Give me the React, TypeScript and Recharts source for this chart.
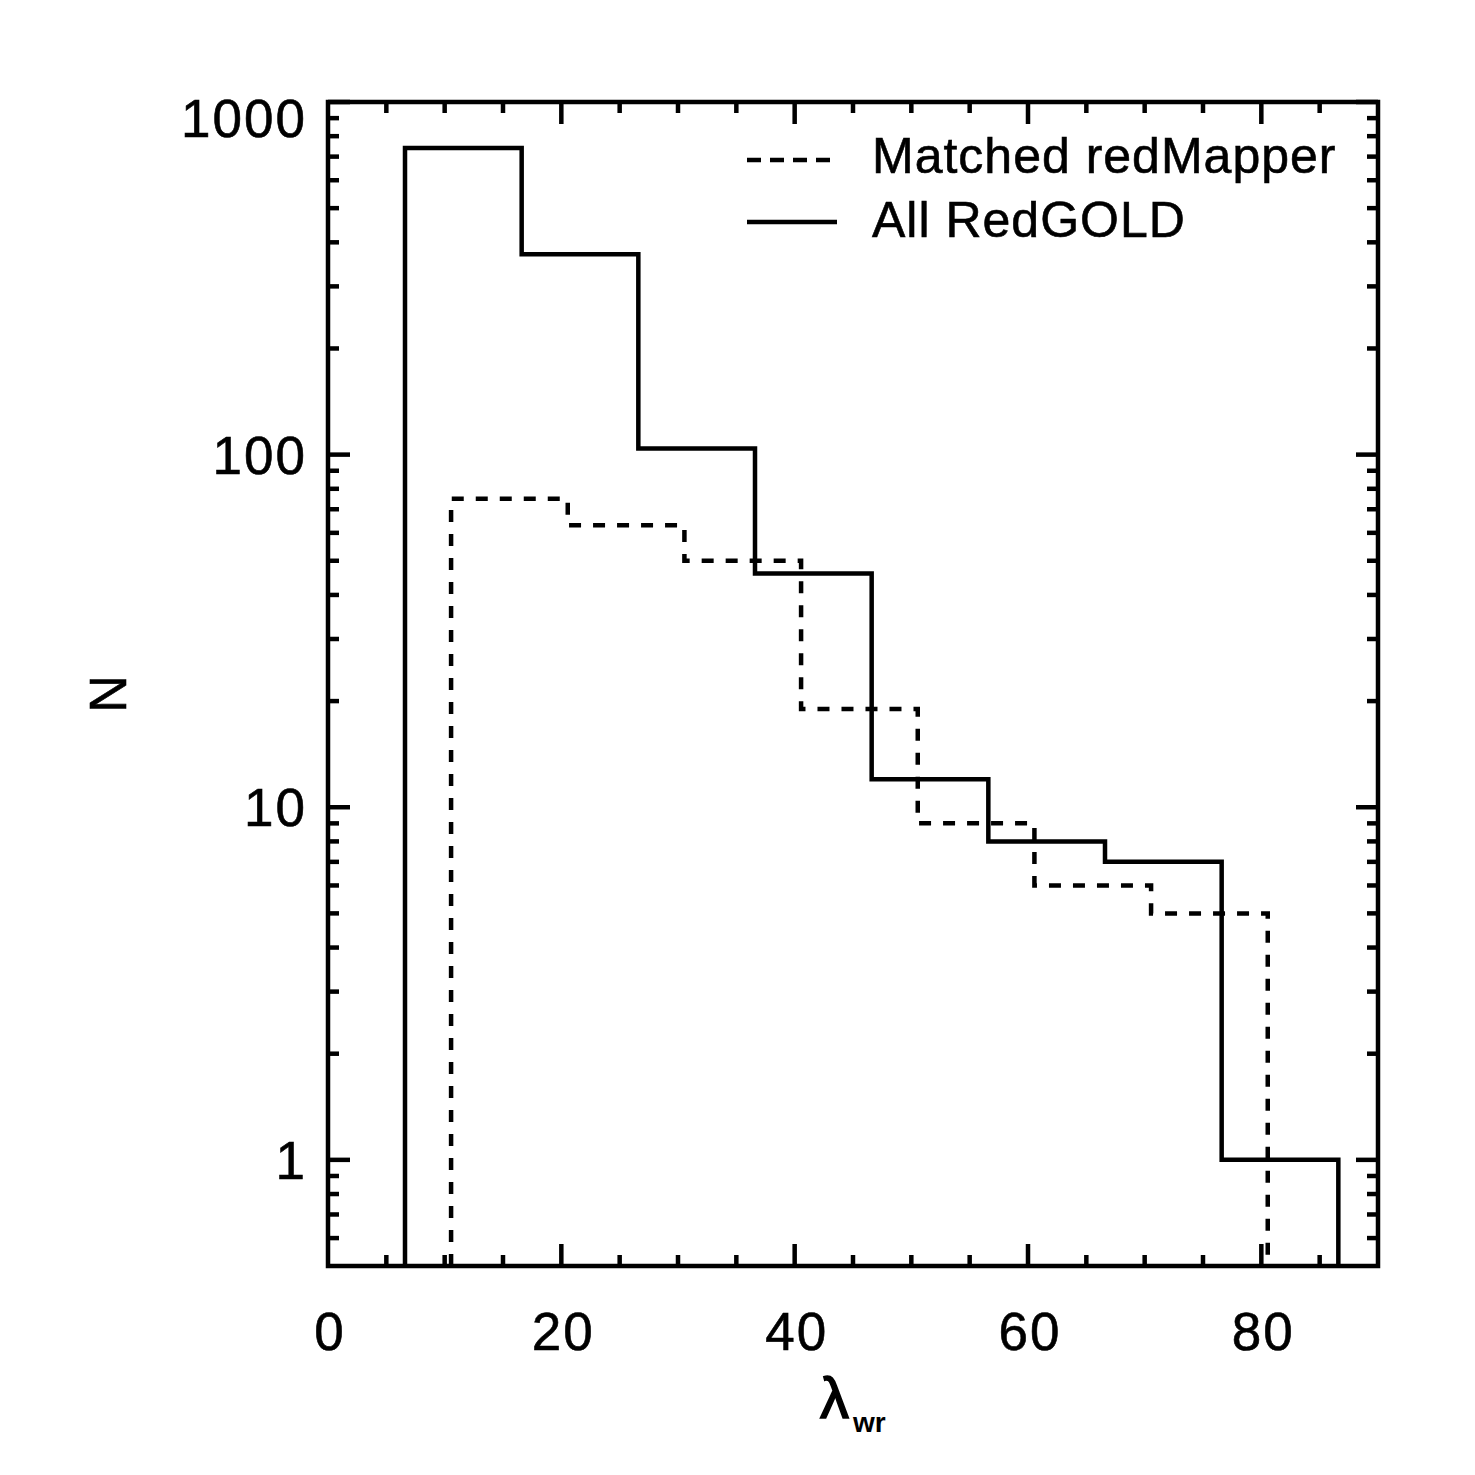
import React from 'react';
import { ComposedChart, Line, XAxis, YAxis, ReferenceArea, Legend } from 'recharts';

// ---- data ----
const solidEdges = [6.6, 16.6, 26.6, 36.6, 46.6, 56.6, 66.6, 76.6, 86.6];
const solidCounts = [740, 370, 104, 46, 12, 8, 7, 1];
const dashedEdges = [10.55, 20.55, 30.55, 40.55, 50.55, 60.55, 70.55, 80.55];
const dashedCounts = [75, 63, 50, 19, 9, 6, 5];
const xTicks = [0, 5, 10, 15, 20, 25, 30, 35, 40, 45, 50, 55, 60, 65, 70, 75, 80, 85];
const xLabels = [0, 20, 40, 60, 80];
const yTicks = [0.6, 0.7, 0.8, 0.9, 1, 2, 3, 4, 5, 6, 7, 8, 9, 10, 20, 30, 40, 50, 60, 70, 80, 90, 100, 200, 300, 400, 500, 600, 700, 800, 900, 1000];
const yLabels = [1, 10, 100, 1000];
const legendNames = ['Matched redMapper', 'All RedGOLD'];

const X_DOMAIN: [number, number] = [0, 90];
const Y_DOMAIN: [number, number] = [0.5, 1000];
const FLOOR = Y_DOMAIN[0];

const buildSteps = (edges: number[], counts: number[]) => {
  const pts = [{ x: edges[0], y: FLOOR }];
  counts.forEach((c, i) => pts.push({ x: edges[i], y: c }));
  const last = edges[edges.length - 1];
  pts.push({ x: last, y: counts[counts.length - 1] });
  pts.push({ x: last, y: FLOOR });
  return pts;
};
const solidData = buildSteps(solidEdges, solidCounts);
const dashedData = buildSteps(dashedEdges, dashedCounts);

// ---- layout ----
const W = 1460;
const H = 1460;
const PL = 320, PR = 1370, PT = 94, PB = 1258;
const YAXIS_W = 100;
const XAXIS_H = 100;
const FONT = '"Liberation Sans", Arial, sans-serif';
const SW = 4.5;

const XTick = (props: any) => {
  const { x, payload } = props;
  const v = payload.value;
  const major = v % 20 === 0;
  const len = major ? 22 : 11;
  return (
    <g>
      {v !== 0 && (
        <>
          <line x1={x} x2={x} y1={PB} y2={PB - len} stroke="#000" strokeWidth={SW} />
          <line x1={x} x2={x} y1={PT} y2={PT + len} stroke="#000" strokeWidth={SW} />
        </>
      )}
      {xLabels.includes(v) && (
        <text x={x + 2} y={PB + 84} textAnchor="middle" fontSize={53} fontFamily={FONT} fill="#000" letterSpacing={2} stroke="#000" strokeWidth={0.6}>
          {v}
        </text>
      )}
    </g>
  );
};

const YTick = (props: any) => {
  const { y, payload } = props;
  const v = payload.value;
  const major = yLabels.includes(v);
  const len = major ? 22 : 11;
  return (
    <g>
      <line x1={PL} x2={PL + len} y1={y} y2={y} stroke="#000" strokeWidth={SW} />
      <line x1={PR} x2={PR - len} y1={y} y2={y} stroke="#000" strokeWidth={SW} />
      {major && (
        <text x={PL - 21} y={y + 19 + (v === 1000 ? 16 : 0)} textAnchor="end" fontSize={53} fontFamily={FONT} fill="#000" letterSpacing={2} stroke="#000" strokeWidth={0.6}>
          {v}
        </text>
      )}
    </g>
  );
};

const XLabel = () => (
  <text x={812} y={1410} fontFamily={FONT} fill="#000">
    <tspan fontSize={58} stroke="#000" strokeWidth={1.5}>λ</tspan>
    <tspan fontSize={28} fontWeight="bold" dx={4} dy={14}>wr</tspan>
  </text>
);

const YLabel = () => (
  <text
    x={100}
    y={686}
    transform="rotate(-90 100 686)"
    textAnchor="middle"
    dominantBaseline="central"
    fontSize={52}
    fontFamily={FONT}
    fill="#000"
    stroke="#000"
    strokeWidth={0.6}
  >
    N
  </text>
);

const LegendContent = () => (
  <svg width={640} height={140} style={{ display: 'block', overflow: 'visible' }}>
    <line x1={7} x2={91} y1={40} y2={40} stroke="#000" strokeWidth={SW} strokeDasharray="14 9" />
    <text x={132} y={53} fontSize={50} fontFamily={FONT} fill="#000" letterSpacing={1} stroke="#000" strokeWidth={0.6}>
      {legendNames[0]}
    </text>
    <line x1={7} x2={97} y1={102} y2={102} stroke="#000" strokeWidth={SW} />
    <text x={132} y={117} fontSize={50} fontFamily={FONT} fill="#000" letterSpacing={1} stroke="#000" strokeWidth={0.6}>
      {legendNames[1]}
    </text>
  </svg>
);

export default function App() {
  return (
    <div style={{ width: W, height: H, background: '#fff' }}>
      <ComposedChart
        width={W}
        height={H}
        margin={{ top: PT, right: W - PR, bottom: H - PB - XAXIS_H, left: PL - YAXIS_W }}
      >
        <XAxis
          type="number"
          dataKey="x"
          domain={X_DOMAIN}
          ticks={xTicks}
          interval={0}
          allowDataOverflow
          axisLine={false}
          tickLine={false}
          tick={<XTick />}
          height={XAXIS_H}
          label={<XLabel />}
        />
        <YAxis
          type="number"
          scale="log"
          domain={Y_DOMAIN}
          ticks={yTicks}
          interval={0}
          allowDataOverflow
          axisLine={false}
          tickLine={false}
          tick={<YTick />}
          width={YAXIS_W}
          label={<YLabel />}
        />
        <Legend
          layout="vertical"
          align="center"
          verticalAlign="middle"
          content={<LegendContent />}
          wrapperStyle={{ position: 'absolute', left: 732, top: 112, width: 640, height: 140 }}
        />
        <Line
          data={dashedData}
          dataKey="y"
          type="stepAfter"
          stroke="#000"
          strokeWidth={SW}
          strokeDasharray="12 12"
          dot={false}
          activeDot={false}
          isAnimationActive={false}
          legendType="none"
        />
        <Line
          data={solidData}
          dataKey="y"
          type="stepAfter"
          stroke="#000"
          strokeWidth={SW}
          dot={false}
          activeDot={false}
          isAnimationActive={false}
          legendType="none"
        />
        <ReferenceArea
          x1={X_DOMAIN[0]}
          x2={X_DOMAIN[1]}
          y1={Y_DOMAIN[0]}
          y2={Y_DOMAIN[1]}
          fill="none"
          fillOpacity={0}
          stroke="#000"
          strokeWidth={SW}
          ifOverflow="visible"
        />
      </ComposedChart>
    </div>
  );
}
